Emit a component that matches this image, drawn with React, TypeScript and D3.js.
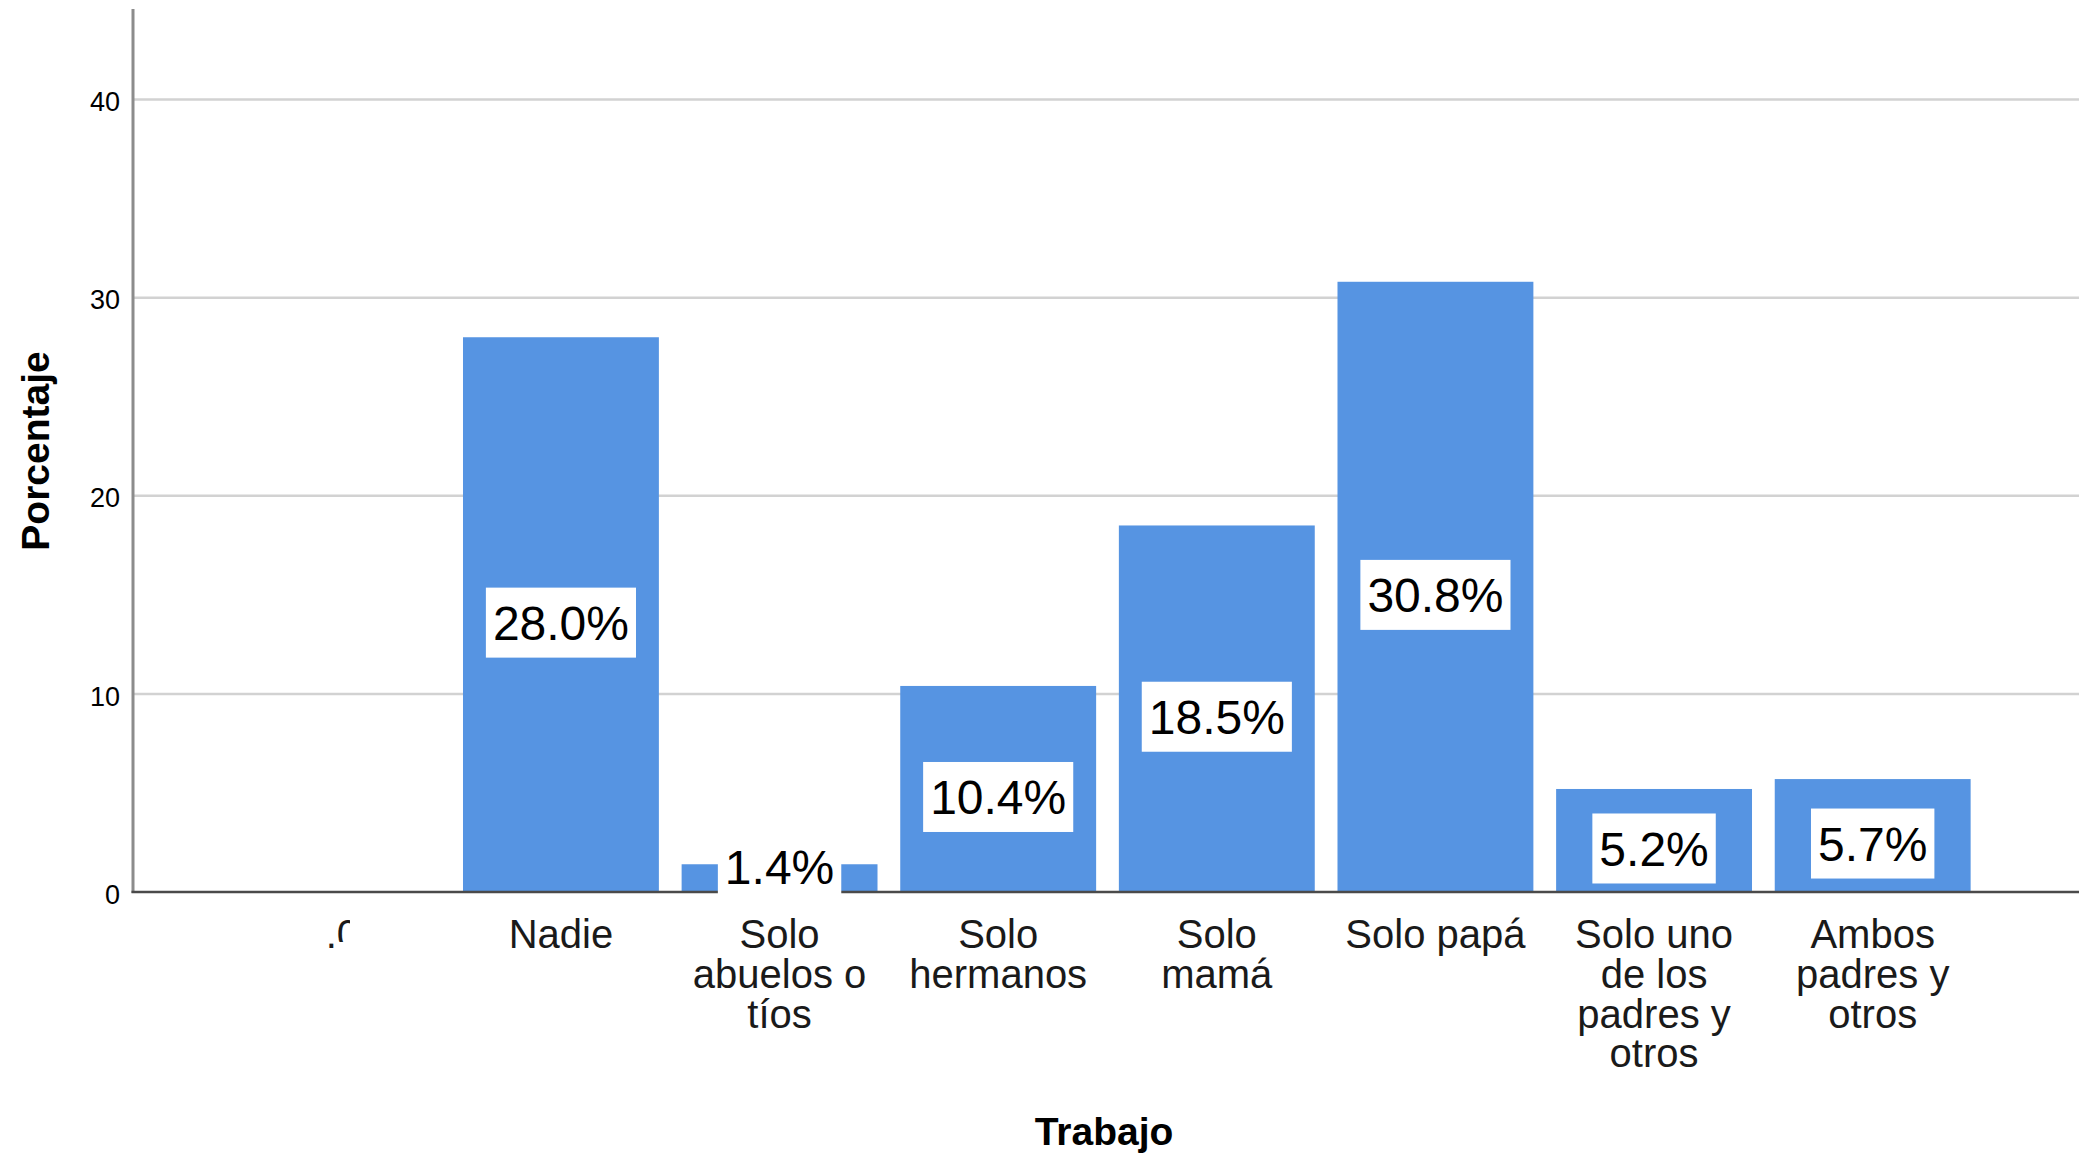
import { useEffect, useRef } from 'react';
import * as d3 from 'd3';

// Trabajo: who works at home (percent of cases)
const categories = ['.0', 'Nadie', 'Solo abuelos o tíos', 'Solo hermanos', 'Solo mamá', 'Solo papá', 'Solo uno de los padres y otros', 'Ambos padres y otros'];
const tickLines = [['.0'], ['Nadie'], ['Solo', 'abuelos o', 'tíos'], ['Solo', 'hermanos'], ['Solo', 'mamá'], ['Solo papá'], ['Solo uno', 'de los', 'padres y', 'otros'], ['Ambos', 'padres y', 'otros']];
const values = [0, 28.0, 1.4, 10.4, 18.5, 30.8, 5.2, 5.7];
const valueLabels = ['', '28.0%', '1.4%', '10.4%', '18.5%', '30.8%', '5.2%', '5.7%'];
const yTicks = [0, 10, 20, 30, 40];

const W = 2079;
const H = 1154;
const FONT = 'Arial, "Liberation Sans", sans-serif';
const BAR = '#5694e2';

export default function App() {
  const ref = useRef<SVGSVGElement>(null);

  useEffect(() => {
    document.body.style.margin = '0';
    if (!ref.current) return;
    const svg = d3.select(ref.current);
    svg.selectAll('*').remove();

    const axisX = 133;
    const y0 = 892;
    const yTop = 9;

    const x = d3.scaleBand<string>().domain(categories).range([233, 1982]).paddingInner(0.104).paddingOuter(0.052);
    const y = d3.scaleLinear().domain([0, 40]).range([y0, 99.5]);

    svg.append('rect').attr('width', W).attr('height', H).attr('fill', '#fff');

    // gridlines
    svg.append('g')
      .selectAll('line')
      .data(yTicks.filter((t) => t > 0))
      .join('line')
      .attr('x1', axisX)
      .attr('x2', W)
      .attr('y1', (d) => y(d))
      .attr('y2', (d) => y(d))
      .attr('stroke', '#d2d2d2')
      .attr('stroke-width', 2.5);

    // tick labels
    svg.append('g')
      .selectAll('text')
      .data(yTicks)
      .join('text')
      .attr('x', 120)
      .attr('y', (d) => y(d) + 2)
      .attr('dy', '0.36em')
      .attr('text-anchor', 'end')
      .attr('font-family', FONT)
      .attr('font-size', 27)
      .attr('fill', '#000')
      .text((d) => d);

    // bars
    svg.append('g')
      .selectAll('rect')
      .data(values)
      .join('rect')
      .attr('x', (_, i) => x(categories[i])!)
      .attr('y', (d) => y(d))
      .attr('width', x.bandwidth())
      .attr('height', (d) => y0 - y(d))
      .attr('fill', BAR);

    // axes lines
    svg.append('line')
      .attr('x1', axisX).attr('x2', axisX)
      .attr('y1', yTop).attr('y2', y0 + 1)
      .attr('stroke', '#8c8c8c').attr('stroke-width', 3);
    svg.append('line')
      .attr('x1', axisX - 1.5).attr('x2', W)
      .attr('y1', y0).attr('y2', y0)
      .attr('stroke', '#4a4a4a').attr('stroke-width', 2.5);

    // value labels in white boxes
    const lab = svg.append('g');
    values.forEach((v, i) => {
      if (!valueLabels[i]) return;
      const cx = x(categories[i])! + x.bandwidth() / 2;
      const cy = Math.min((y(v) + y0) / 2 + 8, y0 - 25);
      const g = lab.append('g');
      const box = g.append('rect').attr('fill', '#fff');
      const t = g.append('text')
        .attr('x', cx)
        .attr('y', cy)
        .attr('dy', '0.36em')
        .attr('text-anchor', 'middle')
        .attr('font-family', FONT)
        .attr('font-size', 48)
        .attr('fill', '#000')
        .text(valueLabels[i]);
      const tw = (t.node() as SVGTextElement).getComputedTextLength();
      box.attr('x', cx - tw / 2 - 7)
        .attr('y', cy - 35)
        .attr('width', tw + 14)
        .attr('height', 70);
    });

    // category labels (the ".0" label is cut off in the original)
    const defs = svg.append('defs');
    const clip = defs.append('clipPath').attr('id', 'cut0');
    clip.append('rect').attr('x', 300).attr('y', 900).attr('width', 36).attr('height', 60);
    clip.append('rect').attr('x', 336).attr('y', 900).attr('width', 14).attr('height', 42);

    const cat = svg.append('g');
    tickLines.forEach((lines, i) => {
      const cx = x(categories[i])! + x.bandwidth() / 2;
      const t = cat.append('text')
        .attr('text-anchor', 'middle')
        .attr('font-family', FONT)
        .attr('font-size', 40)
        .attr('fill', '#1a1a1a');
      if (i === 0) t.attr('clip-path', 'url(#cut0)');
      lines.forEach((ln, j) => {
        t.append('tspan').attr('x', cx).attr('y', 948 + j * 39.8).text(ln);
      });
    });

    // axis titles
    svg.append('text')
      .attr('x', 1104)
      .attr('y', 1145)
      .attr('text-anchor', 'middle')
      .attr('font-family', FONT)
      .attr('font-weight', 'bold')
      .attr('font-size', 39)
      .attr('fill', '#000')
      .text('Trabajo');

    svg.append('text')
      .attr('transform', `translate(49,451) rotate(-90)`)
      .attr('text-anchor', 'middle')
      .attr('font-family', FONT)
      .attr('font-weight', 'bold')
      .attr('font-size', 39)
      .attr('fill', '#000')
      .text('Porcentaje');
  }, []);

  return <svg ref={ref} width={W} height={H} style={{ display: 'block' }} />;
}
